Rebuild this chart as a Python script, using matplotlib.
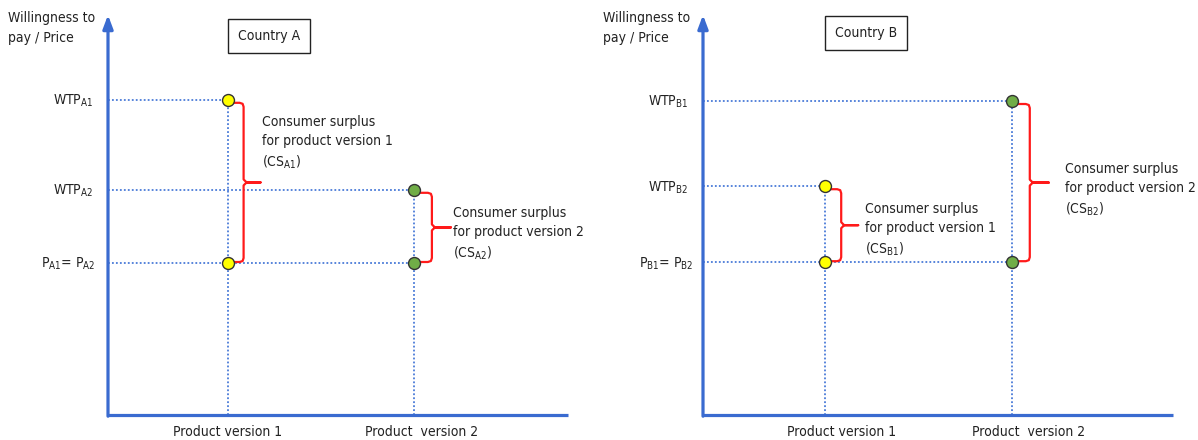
import matplotlib
matplotlib.use('Agg')
import matplotlib.pyplot as plt

plt.rcParams['font.family'] = ['DejaVu Sans']
plt.rcParams['font.stretch'] = 'condensed'
plt.rcParams['font.size'] = 10

# ---- data (arbitrary 0-10 price units) ----
country_names = ['Country A', 'Country B']
product_labels = ['Product version 1', 'Product  version 2']

product_x_a = [2.6, 6.65]
product_x_b = [2.6, 6.57]

wtp_a = [7.88, 5.63]      # version 1, version 2
price_a = [3.8, 3.8]
wtp_b = [5.72, 7.85]
price_b = [3.82, 3.82]

wtp_labels_a = [r'WTP$_\mathregular{A1}$', r'WTP$_\mathregular{A2}$']
wtp_labels_b = [r'WTP$_\mathregular{B2}$', r'WTP$_\mathregular{B1}$']
price_label_a = r'P$_\mathregular{A1}$= P$_\mathregular{A2}$'
price_label_b = r'P$_\mathregular{B1}$= P$_\mathregular{B2}$'

cs_labels_a = ['Consumer surplus\nfor product version 1\n(CS$_\mathregular{A1}$)',
               'Consumer surplus\nfor product version 2\n(CS$_\mathregular{A2}$)']
cs_labels_b = ['Consumer surplus\nfor product version 1\n(CS$_\mathregular{B1}$)',
               'Consumer surplus\nfor product version 2\n(CS$_\mathregular{B2}$)']

# ---- style ----
axis_blue = '#3a6bd0'
dot_blue = '#4a7bd8'
marker_colors = ['#ffff00', '#70ad47']
brace_red = '#ff1a1a'
text_col = '#222222'

W, H = 1198, 440
fig = plt.figure(figsize=(W / 100, H / 100), dpi=100)


def draw_brace(ax, x, y_lo, y_hi, sx, sy, xb=16, xt=34):
    # curly brace to the right of a pair of points, offsets in pixels
    top = y_hi - 3 * sy
    bot = y_lo + 1 * sy
    mid = (top + bot) / 2
    px = [6, xb - 4, xb - 1, xb, xb, xb + 3, xt, xb + 3, xb, xb, xb - 1, xb - 4, 6]
    py = [top, top, top - 1 * sy, top - 4 * sy, mid + 3 * sy, mid, mid, mid,
          mid - 3 * sy, bot + 4 * sy, bot + 1 * sy, bot, bot]
    ax.plot([x + p * sx for p in px], py, color=brace_red, lw=1.6,
            clip_on=False, solid_joinstyle='round', zorder=3)


def draw_panel(rect, xs, wtp, price, wtp_labels, price_label, cs_labels,
               country, box_off, xlab_off, cs_pos, wtp_lab_off, price_lab_off):
    left, bottom, width, height = rect
    ax = fig.add_axes([left / W, bottom / H, width / W, height / H])
    ax.set_xlim(0, 10)
    ax.set_ylim(0, 10)
    ax.axis('off')
    sx = 10 / width
    sy = 10 / height

    # axes lines
    ax.plot([0, 10], [0, 0], color=axis_blue, lw=2.3, clip_on=False,
            solid_capstyle='butt')
    ax.annotate('', xy=(0, 10), xytext=(0, -0.03),
                arrowprops=dict(arrowstyle='-|>,head_length=0.8,head_width=0.3',
                                color=axis_blue, lw=2.3, shrinkA=0, shrinkB=0))

    # dotted guides
    for i in range(2):
        ax.plot([0, xs[i]], [wtp[i], wtp[i]], color=dot_blue, lw=1.3,
                ls=(0, (1, 1.2)), zorder=1)
        ax.plot([xs[i], xs[i]], [0, wtp[i]], color=dot_blue, lw=1.3,
                ls=(0, (1, 1.2)), zorder=1)
    ax.plot([0, max(xs)], [price[0], price[0]], color=dot_blue, lw=1.3,
            ls=(0, (1, 1.2)), zorder=1)

    # points
    for i in range(2):
        ax.plot([xs[i], xs[i]], [wtp[i], price[i]], ls='none', marker='o',
                ms=8.6, mfc=marker_colors[i], mec='#333333', mew=1.0,
                zorder=4, clip_on=False)

    # braces and surplus labels
    for i in range(2):
        draw_brace(ax, xs[i], price[i], wtp[i], sx, sy,
                   xb=16 if i == 0 else 18, xt=33 if i == 0 else 37)
        ax.text(xs[i] + cs_pos[i][0] * sx, cs_pos[i][1], cs_labels[i],
                ha='left', va='center', linespacing=1.45, color=text_col)

    # y labels
    for i in range(2):
        ax.annotate(wtp_labels[i], xy=(0, wtp[i]), xytext=(wtp_lab_off, -5),
                    textcoords='offset pixels', ha='right', va='baseline',
                    color=text_col)
    ax.annotate(price_label, xy=(0, price[0]), xytext=(price_lab_off, -5),
                textcoords='offset pixels', ha='right', va='baseline',
                color=text_col)

    # axis title
    ax.annotate('Willingness to\npay / Price', xy=(0, 1), xycoords='axes fraction',
                xytext=(-100, 4), textcoords='offset pixels', ha='left', va='top',
                linespacing=1.5, color=text_col)

    # x labels
    for i in range(2):
        ax.annotate(product_labels[i], xy=(xs[i], 0), xytext=(xlab_off[i], -17),
                    textcoords='offset pixels', ha='center', va='center',
                    color=text_col)

    # country box
    ax.annotate(country, xy=(0, 1), xycoords='axes fraction', xytext=box_off,
                textcoords='offset pixels', ha='center', va='center',
                color=text_col,
                bbox=dict(boxstyle='square,pad=0.7', fc='white', ec=text_col, lw=1.0))


draw_panel((108, 25, 460, 400), product_x_a, wtp_a, price_a, wtp_labels_a,
           price_label_a, cs_labels_a, country_names[0], (161, -21), (0, 8),
           [(34, 6.8), (39, 4.53)], -15, -13)
draw_panel((703, 25, 470, 400), product_x_b, wtp_b, price_b, wtp_labels_b,
           price_label_b, cs_labels_b, country_names[1], (163, -18), (16, 17),
           [(40, 4.63), (53, 5.63)], -15, -10)

fig.savefig('out.png', dpi=100)
